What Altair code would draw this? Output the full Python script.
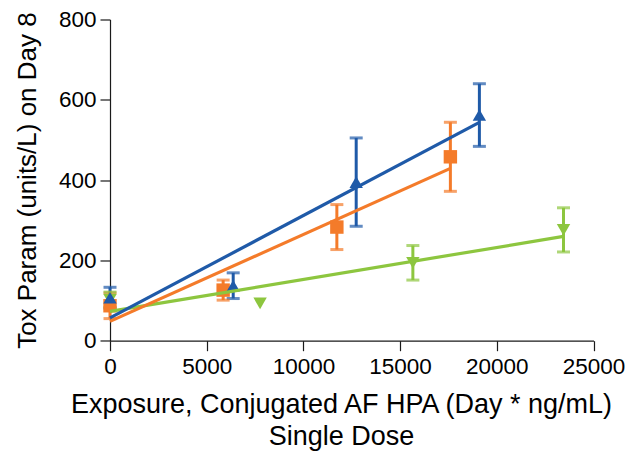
import altair as alt
import pandas as pd

series = ["A", "B", "C"]
colors = ["#1F5AA8", "#F47B2A", "#8DC63F"]
shapes = ["triangle-up", "square", "triangle-down"]

a_x = [0, 6370, 12730, 19100]
a_y = [107, 137, 395, 562]
a_err = [26, 32, 110, 78]

b_x = [0, 5850, 11730, 17600]
b_y = [87, 126, 283, 458]
b_err = [32, 25, 56, 86]

c_x = [0, 7760, 15660, 23450]
c_y = [102, 93, 194, 276]
c_err = [19, 0, 43, 55]

x_ticks = [0, 5000, 10000, 15000, 20000, 25000]
y_ticks = [0, 200, 400, 600, 800]

x_title = ["Exposure, Conjugated AF HPA (Day * ng/mL)", "Single Dose"]
y_title = "Tox Param (units/L) on Day 8"

rows = []
for s, xs, ys, es in [("A", a_x, a_y, a_err), ("B", b_x, b_y, b_err), ("C", c_x, c_y, c_err)]:
    for x, y, e in zip(xs, ys, es):
        rows.append({"s": s, "x": x, "y": y, "err": e, "lo": y - e, "hi": y + e})
df = pd.DataFrame(rows)

order_map = {"C": 0, "B": 1, "A": 2}
df["ord"] = df["s"].map(order_map)

xaxis = alt.Axis(values=x_ticks, title=x_title, labelPadding=5, titlePadding=13,
                 titleLineHeight=32, titleX=231, format="d")
yaxis = alt.Axis(values=y_ticks, title=y_title, labelPadding=4, titlePadding=18, format="d")
xscale = alt.Scale(domain=[0, 25000], nice=False)
yscale = alt.Scale(domain=[0, 800], nice=False)
color = alt.Color("s:N", scale=alt.Scale(domain=series, range=colors), legend=None)
shape = alt.Shape("s:N", scale=alt.Scale(domain=series, range=shapes), legend=None)

base = alt.Chart(df)

rules = base.transform_filter("datum.err > 0").mark_rule(strokeWidth=3).encode(
    x=alt.X("x:Q", scale=xscale, axis=xaxis),
    y=alt.Y("lo:Q", scale=yscale, axis=yaxis),
    y2="hi:Q",
    color=color,
)
caps_hi = base.transform_filter("datum.err > 0").mark_tick(
    orient="horizontal", size=13, thickness=3
).encode(
    x=alt.X("x:Q", scale=xscale, axis=xaxis),
    y=alt.Y("hi:Q", scale=yscale, axis=yaxis),
    color=color,
)
caps_lo = base.transform_filter("datum.err > 0").mark_tick(
    orient="horizontal", size=13, thickness=3
).encode(
    x=alt.X("x:Q", scale=xscale, axis=xaxis),
    y=alt.Y("lo:Q", scale=yscale, axis=yaxis),
    color=color,
)
points = base.mark_point(filled=True, opacity=1, size=180).encode(
    x=alt.X("x:Q", scale=xscale, axis=xaxis),
    y=alt.Y("y:Q", scale=yscale, axis=yaxis),
    color=color,
    shape=shape,
    order=alt.Order("ord:Q"),
)
lines = base.transform_regression("x", "y", groupby=["s"]).mark_line(strokeWidth=3.2).encode(
    x=alt.X("x:Q", scale=xscale, axis=xaxis),
    y=alt.Y("y:Q", scale=yscale, axis=yaxis),
    color=color,
)

lines_c = lines.transform_filter("datum.s == 'C'")
lines_b = lines.transform_filter("datum.s == 'B'")
lines_a = lines.transform_filter("datum.s == 'A'")

chart = alt.layer(rules, caps_hi, caps_lo, points, lines_c, lines_b, lines_a).properties(
    width=483.5,
    height=321.2,
    autosize=alt.AutoSizeParams(type="none"),
    padding={"left": 102, "top": 11.5, "right": 37, "bottom": 112},
).configure_view(stroke=None).configure_axis(
    grid=False,
    labelFont="Liberation Sans",
    titleFont="Liberation Sans",
    labelFontSize=22.5,
    titleFontWeight="normal",
    labelColor="#000000",
    titleColor="#000000",
    domainColor="#1a1a1a",
    tickColor="#1a1a1a",
    domainWidth=1.2,
    tickWidth=1.2,
    tickSize=10,
    labelOverlap=False,
    labelFlush=False,
).configure_axisX(titleFontSize=27).configure_axisY(titleFontSize=26)

chart.save("out.html", embed_options={"renderer": "svg", "actions": False})
